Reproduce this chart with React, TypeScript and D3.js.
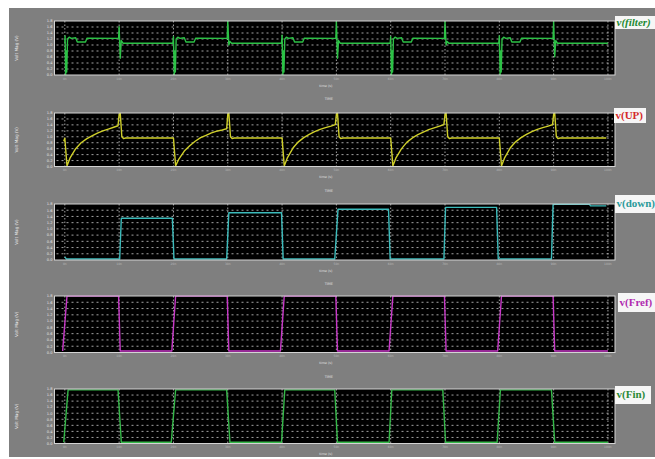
import React from "react";
import * as d3 from "d3";

// ---------- data ----------
const timeTicks = [0, 1, 2, 3, 4, 5, 6, 7, 8, 9, 10];
const voltTicks = [0, 0.2, 0.4, 0.6, 0.8, 1.0, 1.2, 1.4, 1.6, 1.8];
const seriesNames = ["v(filter)", "v(UP)", "v(down)", "v(Fref)", "v(Fin)"];

const filterTime = [
  0.0, 0.005, 0.015, 0.025, 0.035, 0.05, 0.08, 0.12, 0.2, 0.23, 0.38, 0.41, 0.99,
  1.0, 1.02, 1.04, 1.07, 1.99,
  2.0, 2.015, 2.025, 2.035, 2.05, 2.08, 2.12, 2.2, 2.23, 2.38, 2.41, 2.99,
  3.0, 3.02, 3.04, 3.07, 3.99,
  4.0, 4.015, 4.025, 4.035, 4.05, 4.08, 4.12, 4.2, 4.23, 4.38, 4.41, 4.99,
  5.0, 5.02, 5.04, 5.07, 5.99,
  6.0, 6.015, 6.025, 6.035, 6.05, 6.08, 6.12, 6.2, 6.23, 6.38, 6.41, 6.99,
  7.0, 7.02, 7.04, 7.07, 7.99,
  8.0, 8.015, 8.025, 8.035, 8.05, 8.08, 8.12, 8.2, 8.23, 8.38, 8.41, 8.99,
  9.0, 9.02, 9.04, 9.07, 10.0,
];
const filterVolt = [
  1.1, 1.3, 0.0, 0.8, 0.1, 1.2, 1.26, 1.22, 1.24, 1.1, 1.1, 1.23, 1.22,
  1.61, 0.56, 1.15, 1.06, 1.06,
  1.28, 0.0, 0.8, 0.1, 1.2, 1.26, 1.22, 1.24, 1.1, 1.1, 1.23, 1.22,
  1.8, 1.0, 1.12, 1.06, 1.06,
  1.33, 0.0, 0.8, 0.1, 1.2, 1.26, 1.22, 1.24, 1.1, 1.1, 1.23, 1.22,
  1.78, 0.56, 1.15, 1.06, 1.06,
  1.28, 0.0, 0.8, 0.1, 1.2, 1.26, 1.22, 1.24, 1.1, 1.1, 1.23, 1.22,
  1.78, 1.0, 1.12, 1.06, 1.06,
  1.3, 0.0, 0.8, 0.1, 1.2, 1.26, 1.22, 1.24, 1.1, 1.1, 1.23, 1.22,
  1.78, 0.61, 1.15, 1.06, 1.06,
];

const upTime = [
  -0.02, 0.0, 0.04, 0.1, 0.2, 0.3, 0.4, 0.5, 0.6, 0.7, 0.8, 0.9, 0.98, 1.0, 1.02, 1.05, 1.08, 1.12, 1.97,
  2.0, 2.04, 2.1, 2.2, 2.3, 2.4, 2.5, 2.6, 2.7, 2.8, 2.9, 2.98, 3.0, 3.02, 3.05, 3.08, 3.12, 3.97,
  4.0, 4.04, 4.1, 4.2, 4.3, 4.4, 4.5, 4.6, 4.7, 4.8, 4.9, 4.98, 5.0, 5.02, 5.05, 5.08, 5.12, 5.97,
  6.0, 6.04, 6.1, 6.2, 6.3, 6.4, 6.5, 6.6, 6.7, 6.8, 6.9, 6.98, 7.0, 7.02, 7.05, 7.08, 7.12, 7.97,
  8.0, 8.04, 8.1, 8.2, 8.3, 8.4, 8.5, 8.6, 8.7, 8.8, 8.9, 8.98, 9.0, 9.02, 9.05, 9.08, 9.12, 9.97,
];
const upVolt = [
  0.85, 0.95, 0.02, 0.3, 0.6, 0.8, 0.93, 1.03, 1.12, 1.2, 1.26, 1.32, 1.37, 1.75, 1.8, 1.0, 0.94, 0.96, 0.96,
  0.96, 0.02, 0.25, 0.52, 0.7, 0.85, 0.97, 1.05, 1.13, 1.19, 1.23, 1.27, 1.75, 1.8, 1.0, 0.94, 0.96, 0.96,
  0.96, 0.02, 0.3, 0.62, 0.83, 0.97, 1.08, 1.17, 1.25, 1.31, 1.36, 1.41, 1.75, 1.8, 1.0, 0.94, 0.96, 0.96,
  0.96, 0.02, 0.3, 0.6, 0.82, 0.96, 1.07, 1.16, 1.24, 1.3, 1.36, 1.41, 1.75, 1.8, 1.0, 0.94, 0.96, 0.96,
  0.96, 0.02, 0.3, 0.62, 0.83, 0.97, 1.08, 1.17, 1.25, 1.31, 1.36, 1.41, 1.75, 1.8, 1.0, 0.94, 0.96, 0.96,
];

const downTime = [
  0.0, 0.03, 1.01, 1.04, 1.98, 2.01, 2.98, 3.02, 3.99, 4.02, 4.97, 5.03, 5.96, 5.99,
  6.98, 7.01, 7.95, 7.98, 8.96, 8.99, 9.66, 9.68, 9.97,
];
const downVolt = [
  0.1, 0.03, 0.03, 1.34, 1.34, 0.03, 0.03, 1.52, 1.52, 0.03, 0.03, 1.63, 1.63, 0.03,
  0.03, 1.69, 1.69, 0.03, 0.03, 1.79, 1.79, 1.74, 1.74,
];

const frefTime = [
  -0.04, 0.04, 0.99, 1.02, 1.97, 2.04, 2.99, 3.02, 3.97, 4.04, 4.99, 5.02, 5.97, 6.04,
  6.99, 7.02, 7.97, 8.04, 8.99, 9.02, 10.0,
];
const frefVolt = [
  0.05, 1.8, 1.8, 0.05, 0.05, 1.8, 1.8, 0.05, 0.05, 1.8, 1.8, 0.05, 0.05, 1.8,
  1.8, 0.05, 0.05, 1.8, 1.8, 0.05, 0.05,
];

const finTime = [
  -0.02, 0.06, 0.98, 1.04, 1.96, 2.04, 2.98, 3.04, 3.99, 4.05, 4.97, 5.02, 5.97, 6.02,
  6.96, 7.01, 7.96, 8.02, 8.96, 9.02, 10.0,
];
const finVolt = [
  0.04, 1.77, 1.77, 0.04, 0.04, 1.77, 1.77, 0.04, 0.04, 1.77, 1.77, 0.04, 0.04, 1.77,
  1.77, 0.04, 0.04, 1.77, 1.77, 0.04, 0.04,
];

// ---------- layout / style ----------
const W = 655;
const H = 459;
const PLOT_LEFT = 54.5;
const PLOT_RIGHT = 615;
const panels = [
  { top: 21, h: 54, color: "#2cc246", label: { x: 615, y: 16, w: 42, h: 13, color: "#1f8a33", italic: true } },
  { top: 113, h: 53.5, color: "#cfcf2a", label: { x: 614, y: 108, w: 32, h: 15, color: "#d42a2a", italic: false } },
  { top: 204, h: 56, color: "#3cbcbc", label: { x: 615, y: 195, w: 42, h: 18, color: "#2a9a9a", italic: false } },
  { top: 296, h: 56.5, color: "#c838c8", label: { x: 618, y: 293, w: 39, h: 19, color: "#b02cb0", italic: false } },
  { top: 389, h: 54.5, color: "#34b848", label: { x: 615, y: 386, w: 36, h: 18, color: "#2a8a36", italic: false } },
];
const seriesTime = [filterTime, upTime, downTime, frefTime, finTime];
const seriesVolt = [filterVolt, upVolt, downVolt, frefVolt, finVolt];

const x = d3.scaleLinear().domain([-0.19, 10.13]).range([PLOT_LEFT, PLOT_RIGHT]);

export default function App() {
  return (
    <div style={{ position: "fixed", left: 0, top: 0 }}>
      <svg width={W} height={H} style={{ display: "block", background: "#fff" }}>
        <rect x={9} y={8} width={W - 9} height={449} fill="#7f7f7f" />
        <defs>
          {panels.map((p, i) => (
            <clipPath id={`clip${i}`} key={i}>
              <rect x={PLOT_LEFT} y={p.top - 0.5} width={PLOT_RIGHT - PLOT_LEFT} height={p.h + 1} />
            </clipPath>
          ))}
        </defs>
        {panels.map((p, i) => {
          const y = d3.scaleLinear().domain([0, 1.8]).range([p.top + p.h, p.top]);
          const pts = seriesTime[i].map((t, k) => [t, seriesVolt[i][k]] as [number, number]);
          const line = d3
            .line<[number, number]>()
            .x((d) => x(d[0]))
            .y((d) => y(d[1]));
          const bottom = p.top + p.h;
          const mid = (PLOT_LEFT + PLOT_RIGHT) / 2;
          const isLast = i === panels.length - 1;
          return (
            <g key={i}>
              <rect x={PLOT_LEFT} y={p.top} width={PLOT_RIGHT - PLOT_LEFT} height={p.h} fill="#000" />
              {voltTicks.slice(1, -1).map((v) => (
                <line
                  key={"h" + v}
                  x1={PLOT_LEFT + 2}
                  x2={PLOT_RIGHT - 2}
                  y1={y(v)}
                  y2={y(v)}
                  stroke="#d8d8d8"
                  strokeWidth={1}
                  strokeDasharray="2,3"
                  opacity={0.75}
                />
              ))}
              {timeTicks.map((t) => (
                <line
                  key={"v" + t}
                  x1={x(t)}
                  x2={x(t)}
                  y1={p.top}
                  y2={bottom}
                  stroke="#c8c8c8"
                  strokeWidth={1}
                  strokeDasharray="1.5,2"
                  opacity={0.8}
                />
              ))}
              <path
                d={line(pts) || ""}
                fill="none"
                stroke={p.color}
                strokeWidth={1.4}
                strokeLinejoin="round"
                clipPath={`url(#clip${i})`}
              />
              <rect
                x={PLOT_LEFT}
                y={p.top}
                width={PLOT_RIGHT - PLOT_LEFT}
                height={p.h}
                fill="none"
                stroke="#d4d4d4"
                strokeWidth={1}
              />
              {voltTicks.map((v) => (
                <text
                  key={"yl" + v}
                  x={PLOT_LEFT - 2}
                  y={y(v) + 1.3}
                  fontSize={3.6}
                  fill="#e6e6e6"
                  textAnchor="end"
                  fontFamily="DejaVu Sans"
                >
                  {v.toFixed(1)}
                </text>
              ))}
              {timeTicks.map((t) => (
                <text
                  key={"xl" + t}
                  x={x(t)}
                  y={bottom + 4.5}
                  fontSize={3}
                  fill="#b8b8b8"
                  textAnchor="middle"
                  fontFamily="DejaVu Sans"
                >
                  {t * 10}n
                </text>
              ))}
              <text
                x={17}
                y={p.top + p.h / 2}
                transform={`rotate(-90 17 ${p.top + p.h / 2})`}
                fontSize={4.2}
                fill="#eeeeee"
                textAnchor="middle"
                dominantBaseline="middle"
                fontFamily="DejaVu Sans"
              >
                Volt Mag (V)
              </text>
              <text
                x={mid - 9}
                y={bottom + 11.5}
                fontSize={3.4}
                fill="#e0e0e0"
                textAnchor="middle"
                fontFamily="DejaVu Sans"
              >
                time (s)
              </text>
              {!isLast && (
                <text
                  x={mid - 6}
                  y={bottom + 25}
                  fontSize={3.4}
                  fill="#e0e0e0"
                  textAnchor="middle"
                  fontFamily="DejaVu Sans"
                >
                  TIME
                </text>
              )}
              <rect x={p.label.x} y={p.label.y} width={p.label.w} height={p.label.h} fill="#f6f6f6" />
              <text
                x={p.label.x + 1.5}
                y={p.label.y + p.label.h / 2 + 0.5}
                fontSize={11}
                fontWeight="bold"
                fontStyle={p.label.italic ? "italic" : "normal"}
                fill={p.label.color}
                dominantBaseline="middle"
                fontFamily="Liberation Serif"
              >
                {seriesNames[i]}
              </text>
            </g>
          );
        })}
      </svg>
    </div>
  );
}
